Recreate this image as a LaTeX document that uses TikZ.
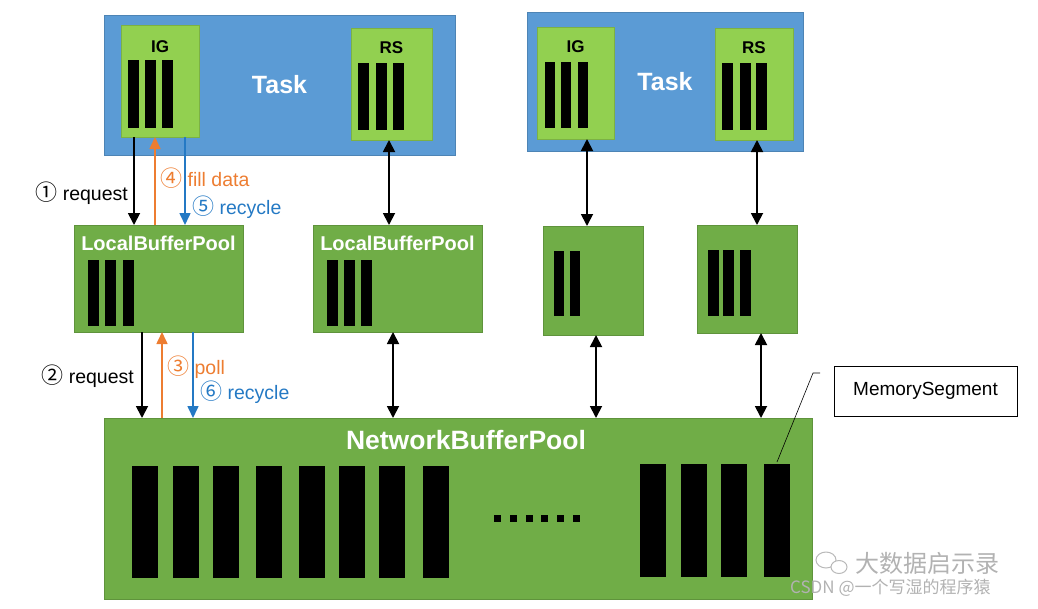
\documentclass[tikz,border=0pt]{standalone}
\usepackage{fontspec}
\setmainfont{Liberation Sans}
\newfontfamily\cjk{Noto Sans CJK SC}
\usepackage{xcolor}
\usepackage{tikz}
\usetikzlibrary{arrows.meta, positioning, calc}

\definecolor{taskblue}{HTML}{5B9BD5}
\definecolor{opgreen}{HTML}{92D050}
\definecolor{poolgreen}{HTML}{70AD47}
\definecolor{fillorange}{HTML}{ED7D31}
\definecolor{recblue}{HTML}{2479C4}
\newcommand{\stepno}[1]{{\cjk\fontsize{22}{22}\selectfont #1}}

\begin{document}
\begin{tikzpicture}[x=1pt, y=-1pt,
    box/.style={draw=#1!85!black, fill=#1, line width=0.6pt, inner sep=0pt, outer sep=0pt},
    tag/.style={font=\bfseries\fontsize{17}{19}\selectfont, inner sep=0pt},
    pooltag/.style={font=\bfseries\fontsize{20}{22}\selectfont, text=white, inner sep=0pt},
    note/.style={font=\fontsize{19.5}{22}\selectfont, inner sep=0pt},
    arr/.style={line width=1.8pt, -{Triangle[length=12pt, width=12pt]}},
    dbl/.style={line width=1.8pt, {Triangle[length=12pt, width=12pt]}-{Triangle[length=12pt, width=12pt]}},
    carr/.style={line width=1.6pt, -{Triangle[length=12pt, width=11pt]}, draw=#1}]
  \useasboundingbox (0,0) rectangle (1038,608);

  % tasks
  \node[box=taskblue, minimum width=351, minimum height=140, text=white,
        font=\bfseries\fontsize{25}{28}\selectfont] (task1) at (279.5,85) {Task};
  \node[box=taskblue, minimum width=276, minimum height=139, text=white,
        font=\bfseries\fontsize{25}{28}\selectfont] (task2) at (665,81.5) {Task};
  \node[box=opgreen, minimum width=78, minimum height=112] (ig1) at (160,81) {};
  \node[box=opgreen, minimum width=81, minimum height=112] (rs1) at (391.5,84) {};
  \node[box=opgreen, minimum width=77, minimum height=112] (ig2) at (575.5,83) {};
  \node[box=opgreen, minimum width=78, minimum height=112] (rs2) at (754,84) {};
  \node[tag] (ig1tag) at ([yshift=-22pt]ig1.north) {IG};
  \node[tag] (rs1tag) at ([yshift=-20pt]rs1.north) {RS};
  \node[tag] (ig2tag) at ([yshift=-20pt]ig2.north) {IG};
  \node[tag] (rs2tag) at ([yshift=-20pt]rs2.north) {RS};

  % buffer pools
  \node[box=poolgreen, minimum width=169, minimum height=107] (lbp1) at (158.5,278.5) {};
  \node[box=poolgreen, minimum width=169, minimum height=107] (lbp2) at (397.5,278.5) {};
  \node[box=poolgreen, minimum width=100, minimum height=109] (sbp1) at (593,280.5) {};
  \node[box=poolgreen, minimum width=100, minimum height=108] (sbp2) at (747,279) {};
  \node[box=poolgreen, minimum width=708, minimum height=181] (nbp) at (458,508.5) {};
  \node[pooltag] (lbp1tag) at ([yshift=-18pt]lbp1.north) {LocalBufferPool};
  \node[pooltag] (lbp2tag) at ([yshift=-18pt]lbp2.north) {LocalBufferPool};
  \node[pooltag, font=\bfseries\fontsize{26.5}{29}\selectfont] (nbptag)
        at ([xshift=8pt, yshift=-22pt]nbp.north) {NetworkBufferPool};

  % memory segments
  \foreach \x in {128,145,162} { \fill (\x,60) rectangle ++(11,68); }
  \foreach \x in {358,376,393} { \fill (\x,63) rectangle ++(11,67); }
  \foreach \x in {545,561,578} { \fill (\x,62) rectangle ++(10,66); }
  \foreach \x in {722,740,756} { \fill (\x,63) rectangle ++(11,67); }
  \foreach \x in {88,105,123} { \fill (\x,260) rectangle ++(11,66); }
  \foreach \x in {327,344,361} { \fill (\x,260) rectangle ++(11,66); }
  \foreach \x in {554,570} { \fill (\x,251) rectangle ++(10,65); }
  \foreach \x in {708,723,740} { \fill (\x,250) rectangle ++(11,66); }
  \foreach \x in {132,173,213,256,299,339,379,423} { \fill (\x,466) rectangle ++(26,112); }
  \foreach \x in {640,681,721,764} { \fill (\x,464) rectangle ++(26,113); }
  \foreach \i in {0,...,5} { \fill (494+15.8*\i,515) rectangle ++(7,7); }

  % arrows task <-> local pools
  \coordinate (req1) at ([xshift=-26pt]ig1.south);
  \coordinate (fill1) at ([xshift=-5pt]ig1.south);
  \coordinate (rec5) at ([xshift=25pt]ig1.south);
  \coordinate (rsa) at ([xshift=-2.5pt]rs1.south);
  \coordinate (iga) at ([xshift=11.5pt]ig2.south);
  \coordinate (rsb) at ([xshift=3pt]rs2.south);
  \draw[arr] (req1) -- (req1 |- lbp1.north);
  \draw[carr=fillorange] (fill1 |- lbp1.north) -- (fill1);
  \draw[carr=recblue] (rec5) -- (rec5 |- lbp1.north);
  \draw[dbl] (rsa) -- (rsa |- lbp2.north);
  \draw[dbl] (iga) -- (iga |- sbp1.north);
  \draw[dbl] (rsb) -- (rsb |- sbp2.north);

  % arrows local pools <-> network pool
  \coordinate (req2) at ([xshift=-16.5pt]lbp1.south);
  \coordinate (poll3) at ([xshift=3.5pt]lbp1.south);
  \coordinate (rec6) at ([xshift=34.5pt]lbp1.south);
  \coordinate (lpa) at ([xshift=-4.5pt]lbp2.south);
  \coordinate (spa) at ([xshift=3pt]sbp1.south);
  \coordinate (spb) at ([xshift=14pt]sbp2.south);
  \draw[arr] (req2) -- (req2 |- nbp.north);
  \draw[carr=fillorange] (poll3 |- nbp.north) -- (poll3);
  \draw[carr=recblue] (rec6) -- (rec6 |- nbp.north);
  \draw[dbl] (lpa) -- (lpa |- nbp.north);
  \draw[dbl] (spa) -- (spa |- nbp.north);
  \draw[dbl] (spb) -- (spb |- nbp.north);

  % step labels
  \node[note, anchor=east] (step1) at (128,193) {\stepno{①} request};
  \node[note, anchor=west, text=fillorange] (step4) at (160,178) {\stepno{④} fill data};
  \node[note, anchor=west, text=recblue] (step5) at (192,207) {\stepno{⑤} recycle};
  \node[note, anchor=east] (step2) at (134,376) {\stepno{②} request};
  \node[note, anchor=west, text=fillorange] (step3) at (167,367) {\stepno{③} poll};
  \node[note, anchor=west, text=recblue] (step6) at (200,392) {\stepno{⑥} recycle};

  % callout
  \node[draw, line width=0.8pt, fill=white, minimum width=183, minimum height=50,
        inner sep=0pt, font=\fontsize{19}{21}\selectfont] (memseg) at (925.5,391) {MemorySegment};
  \coordinate (msfoot) at (820,373);
  \coordinate (lastseg) at (777,462);
  \draw[line width=0.6pt] (msfoot) -- ++(-7,0) -- (lastseg);

  % watermark
  \draw[gray!55, line width=1pt] (826,560) ellipse (10 and 8);
  \draw[gray!55, line width=1pt, fill=white] (839,567) ellipse (8 and 6.5);
  \node[text=gray!60, font=\cjk\fontsize{24}{26}\selectfont, anchor=west, inner sep=0pt] (wm1)
        at (855,563) {大数据启示录};
  \node[text=gray!60, font=\cjk\fontsize{17}{19}\selectfont, anchor=west, inner sep=0pt] (wm2)
        at (790,588) {CSDN @一个写湿的程序猿};
\end{tikzpicture}
\end{document}
